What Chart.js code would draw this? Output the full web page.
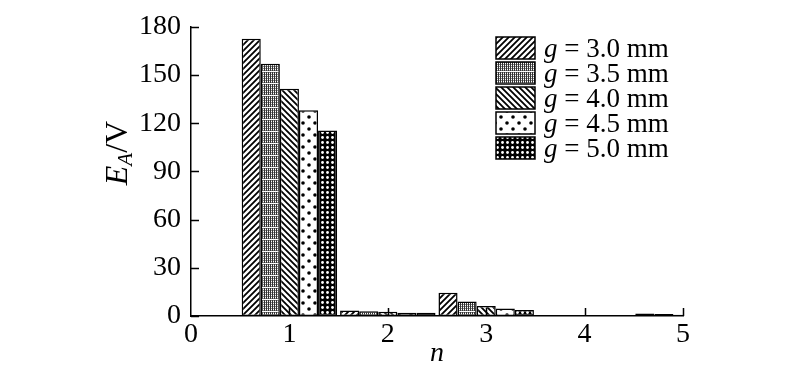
<!DOCTYPE html>
<html>
<head>
<meta charset="utf-8">
<script src="https://cdn.jsdelivr.net/npm/chart.js@4.4.0/dist/chart.umd.min.js"></script>
<style>
  html, body { margin: 0; padding: 0; background: #fff; }
</style>
</head>
<body>
<canvas id="grafico" width="800" height="380"></canvas>
<script>
// dados
const nLabels = ['0', '1', '2', '3', '4', '5'];
const gapLabels = ['3.0', '3.5', '4.0', '4.5', '5.0'];
const ea30 = [172.5, 3.5, 14.5, 0.4, 1.6];
const ea35 = [157, 3.0, 9.0, 0.4, 1.2];
const ea40 = [141.5, 2.6, 6.3, 0.4, 0.8];
const ea45 = [128, 2.1, 4.6, 0.3, 0.6];
const ea50 = [115.5, 2.1, 3.7, 0.3, 0.5];
const yTicks = [0, 30, 60, 90, 120, 150, 180];

const serif = 'Liberation Serif';

// padroes de preenchimento
function tile(w, h, draw) {
  const c = document.createElement('canvas');
  c.width = w; c.height = h;
  const g = c.getContext('2d');
  g.fillStyle = '#fff';
  g.fillRect(0, 0, w, h);
  draw(g, w, h);
  return document.createElement('canvas').getContext('2d').createPattern(c, 'repeat');
}

const pSlash = tile(6, 6, (g, w, h) => {
  g.strokeStyle = '#000'; g.lineWidth = 1.8;
  g.beginPath();
  g.moveTo(-1, h + 1); g.lineTo(w + 1, -1);
  g.moveTo(-1, 1); g.lineTo(1, -1);
  g.moveTo(w - 1, h + 1); g.lineTo(w + 1, h - 1);
  g.stroke();
});
const pBack = tile(6, 6, (g, w, h) => {
  g.strokeStyle = '#000'; g.lineWidth = 1.8;
  g.beginPath();
  g.moveTo(-1, -1); g.lineTo(w + 1, h + 1);
  g.moveTo(w - 1, -1); g.lineTo(w + 1, 1);
  g.moveTo(-1, h - 1); g.lineTo(1, h + 1);
  g.stroke();
});
const pGrid = tile(2, 12, (g, w, h) => {
  for (let y = 0; y < 11; y++) {
    g.fillStyle = '#333';
    g.fillRect(0, y, 1, 1);
    if (y % 2 === 0) { g.fillStyle = '#888'; g.fillRect(1, y, 1, 1); }
  }
});
const pDots = tile(12, 12, (g) => {
  g.fillStyle = '#000';
  g.beginPath(); g.arc(3, 3, 1.8, 0, Math.PI * 2); g.fill();
  g.beginPath(); g.arc(9, 9, 1.8, 0, Math.PI * 2); g.fill();
});
const pMesh = tile(5, 5, (g, w, h) => {
  g.fillStyle = '#000';
  g.fillRect(0, 0, w, h);
  g.fillStyle = '#fff';
  g.beginPath(); g.arc(2.5, 2.5, 1.4, 0, Math.PI * 2); g.fill();
});

const padroes = [pSlash, pGrid, pBack, pDots, pMesh];
const series = [ea30, ea35, ea40, ea45, ea50];

const datasets = series.map((vals, i) => ({
  label: gapLabels[i],
  data: [null].concat(vals),
  backgroundColor: padroes[i],
  borderColor: '#000',
  borderWidth: 1.5,
  borderSkipped: false,
  categoryPercentage: 0.97,
  barPercentage: 1.0,
  clip: { left: 0, top: 10, right: 0, bottom: 2 },
}));

// marcas para dentro, titulos e legenda
const extras = {
  id: 'extras',
  afterDatasetsDraw(chart) {
    const ctx = chart.ctx;
    const x = chart.scales.x, y = chart.scales.y;
    const area = chart.chartArea;
    ctx.save();
    ctx.strokeStyle = '#000';
    ctx.lineWidth = 1.5;
    ctx.beginPath();
    yTicks.forEach((v) => {
      const py = Math.round(y.getPixelForValue(v)) + 0.5;
      ctx.moveTo(area.left, py); ctx.lineTo(area.left + 8, py);
    });
    for (let i = 1; i < nLabels.length; i++) {
      const px = Math.round(x.getPixelForValue(i)) + 0.5;
      ctx.moveTo(px, area.bottom); ctx.lineTo(px, area.bottom - 8);
    }
    ctx.stroke();
    ctx.restore();
  },
  afterDraw(chart) {
    const ctx = chart.ctx;
    ctx.save();
    ctx.fillStyle = '#000';

    // eixo x: n
    ctx.font = 'italic 28px "' + serif + '"';
    ctx.textAlign = 'center';
    ctx.textBaseline = 'alphabetic';
    ctx.fillText('n', 437, 361);

    // eixo y: E_A/V
    ctx.translate(127, 153);
    ctx.rotate(-Math.PI / 2);
    ctx.textAlign = 'left';
    const partes = [
      { t: 'E', f: 'italic 32px', dy: 0 },
      { t: 'A', f: 'italic 21px', dy: 5 },
      { t: '/V', f: '32px', dy: 0 },
    ];
    let total = 0;
    partes.forEach((p) => { ctx.font = p.f + ' "' + serif + '"'; p.w = ctx.measureText(p.t).width; total += p.w; });
    let cx = -total / 2;
    partes.forEach((p) => {
      ctx.font = p.f + ' "' + serif + '"';
      ctx.fillText(p.t, cx, p.dy);
      cx += p.w;
    });
    ctx.setTransform(1, 0, 0, 1, 0, 0);

    // legenda
    chart.data.datasets.forEach((ds, i) => {
      const y0 = 37 + 25 * i;
      ctx.fillStyle = ds.backgroundColor;
      ctx.fillRect(496, y0, 39, 22);
      ctx.strokeStyle = '#000';
      ctx.lineWidth = 1.5;
      ctx.strokeRect(496, y0, 39, 22);
      ctx.fillStyle = '#000';
      ctx.textAlign = 'left';
      ctx.font = 'italic 27px "' + serif + '"';
      ctx.fillText('g', 544, y0 + 20);
      const wg = ctx.measureText('g').width;
      ctx.font = '27px "' + serif + '"';
      ctx.fillText(' = ' + ds.label + ' mm', 544 + wg, y0 + 20);
    });
    ctx.restore();
  },
};

new Chart(document.getElementById('grafico'), {
  type: 'bar',
  data: { labels: nLabels, datasets: datasets },
  options: {
    responsive: false,
    animation: false,
    layout: { padding: { left: 0, top: 17, right: 117, bottom: 0 } },
    plugins: { legend: { display: false }, tooltip: { enabled: false } },
    scales: {
      x: {
        offset: false,
        grid: { display: false, offset: false, drawTicks: false },
        border: { display: true, color: '#000', width: 1.5 },
        ticks: { color: '#000', font: { family: serif, size: 28 }, padding: 2, maxRotation: 0, autoSkip: false },
        afterFit(scale) { scale.height = 64; },
      },
      y: {
        min: 0,
        max: 180,
        grid: { display: false, drawTicks: false },
        border: { display: true, color: '#000', width: 1.5 },
        ticks: { color: '#000', font: { family: serif, size: 28 }, padding: 10, stepSize: 30 },
        afterFit(scale) { scale.width = 191; },
      },
    },
  },
  plugins: [extras],
});
</script>
</body>
</html>
